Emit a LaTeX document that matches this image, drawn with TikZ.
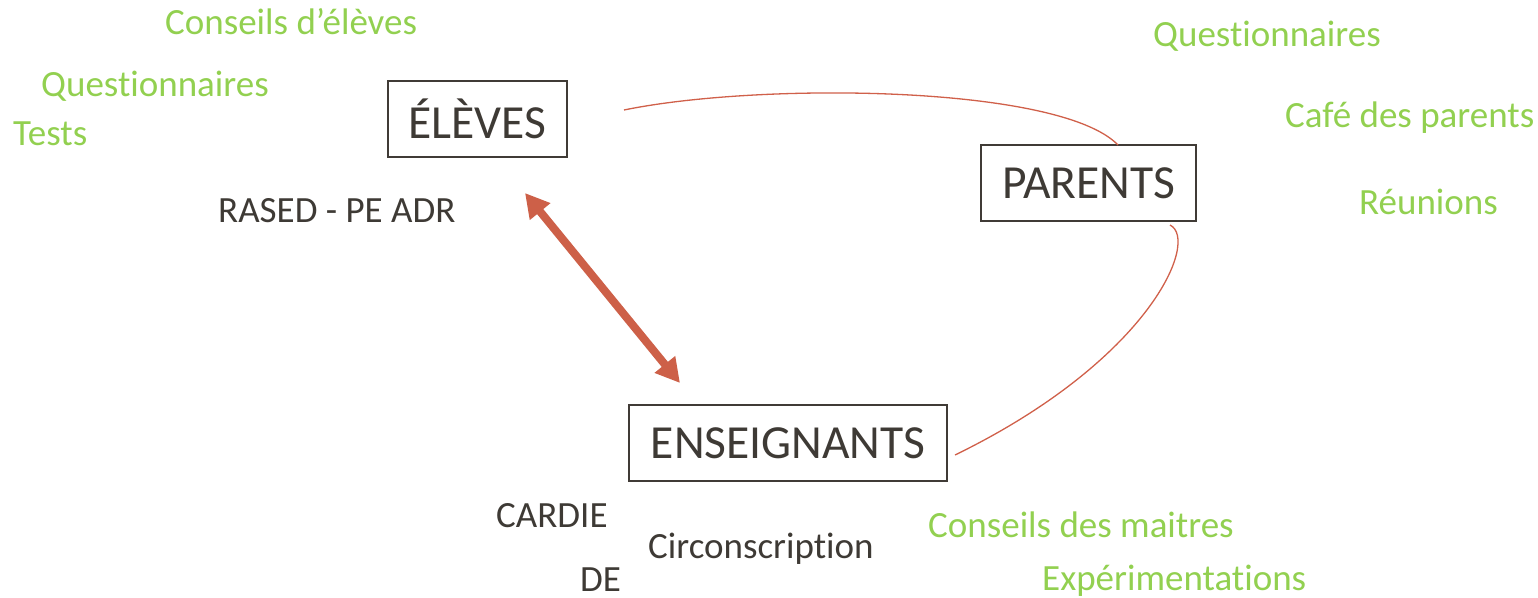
\documentclass[tikz,border=0pt]{standalone}
\usepackage{fontspec}
\setmainfont[Ligatures=NoCommon,RawFeature={-liga;-clig;-calt;-dlig}]{Carlito}
\usetikzlibrary{arrows.meta}
\definecolor{txtdark}{HTML}{3E3A35}
\definecolor{boxline}{HTML}{403B36}
\definecolor{greentxt}{HTML}{92D050}
\definecolor{linkred}{HTML}{D0604A}
\definecolor{arrowred}{HTML}{CD6048}
\tikzset{
  box/.style={draw=boxline, line width=2pt, minimum height=76pt, inner sep=0pt,
    text=txtdark, font=\fontsize{47.5}{52}\selectfont},
  greenlbl/.style={anchor=base west, inner sep=0pt, text=greentxt, font=\fontsize{37}{44}\selectfont},
  darklbl/.style={anchor=base west, inner sep=0pt, text=txtdark, font=\fontsize{37}{44}\selectfont},
  link/.style={draw=linkred, line width=1.3pt},
  bigarrow/.style={draw=arrowred, line width=8pt,
    {Triangle[width=25pt,length=24pt]}-{Triangle[width=25pt,length=24pt]}}
}
\begin{document}
\begin{tikzpicture}[x=1pt,y=-1pt]
\useasboundingbox (0,0) rectangle (1538,597);
% boxes
\node[box, minimum width=179pt] (eleves) at (477.5,119) {ÉLÈVES};
\node[box, minimum width=215pt] (parents) at (1088.5,183) {PARENTS};
\node[box, minimum width=318pt] (ens) at (788,443) {ENSEIGNANTS};
% green labels
\node[greenlbl] (ce) at (165,34) {Conseils d’élèves};
\node[greenlbl] (q1) at (41,96) {Questionnaires};
\node[greenlbl] (tests) at (13,145) {Tests};
\node[greenlbl] (q2) at (1153,46) {Questionnaires};
\node[greenlbl] (cafe) at (1285,127) {Café des parents};
\node[greenlbl] (reu) at (1359,214) {Réunions};
\node[greenlbl] (cm) at (928,537) {Conseils des maitres};
\node[greenlbl] (exp) at (1042,590) {Expérimentations};
% dark labels
\node[darklbl] (rased) at (218,222) {RASED - PE ADR};
\node[darklbl] (cardie) at (496,527) {CARDIE};
\node[darklbl] (circ) at (648,558) {Circonscription};
\node[darklbl] (de) at (580,591) {DE};
% connectors
\coordinate (l1s) at (624,110);
\coordinate (l1e) at (1118,145);
\coordinate (l2s) at (1170,225);
\coordinate (l2e) at (955,455);
\coordinate (a1) at (525,193);
\coordinate (a2) at (680,383);
\draw[link] (l1s) .. controls (760,82) and (1060,85) .. (l1e);
\draw[link] (l2s) .. controls (1200,240) and (1150,360) .. (l2e);
\draw[bigarrow] (a1) -- (a2);
\end{tikzpicture}
\end{document}
